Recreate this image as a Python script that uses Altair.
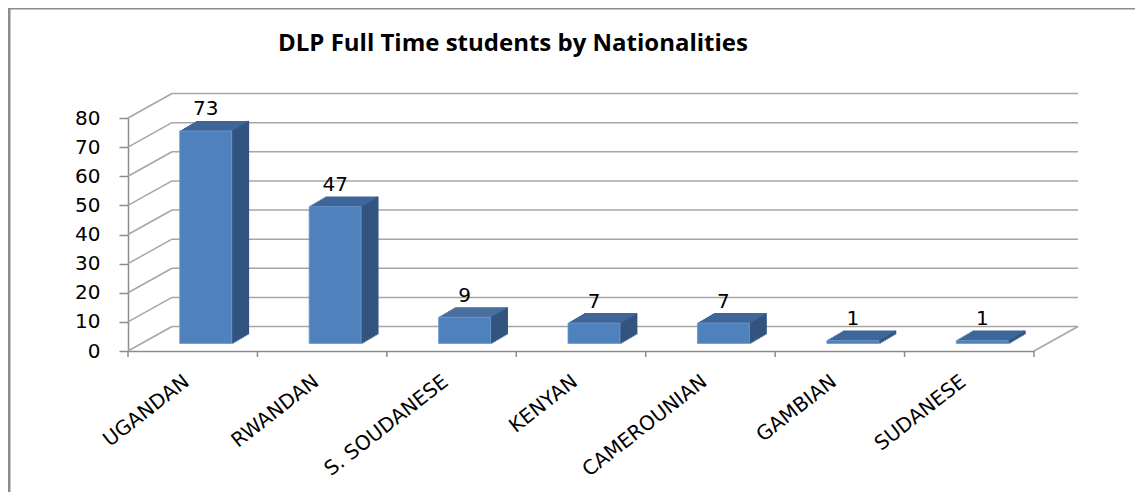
import altair as alt
import pandas as pd

# ---- data ----
categories = ["UGANDAN", "RWANDAN", "S. SOUDANESE", "KENYAN", "CAMEROUNIAN", "GAMBIAN", "SUDANESE"]
students = [73, 47, 9, 7, 7, 1, 1]
y_ticks = [0, 10, 20, 30, 40, 50, 60, 70, 80]
title_text = "DLP Full Time students by Nationalities"

# ---- geometry / style ----
W, H = 906, 233
DX, DY = 44, -24.5        # depth of the back wall
BAR_W = 52
FX, FY = 13, -7.5         # shift of bar front face into the floor
BDX, BDY = 17, -10        # bar depth
N = 10
GRAY = "#8c8c8c"
GRID = "#a6a6a6"
FRONT = "#4f81bd"
TOP = "#3e6699"
SIDE = "#32547f"
FONT = "DejaVu Sans"

df = pd.DataFrame({"nat": categories, "n": students, "zero": [0] * len(students)})
grid_df = pd.DataFrame({"n": y_ticks})
one = pd.DataFrame({"k": [0]})
title_df = pd.DataFrame({"t": [title_text]})

X = alt.X("nat:N", sort=categories,
          scale=alt.Scale(paddingInner=0, paddingOuter=0),
          axis=alt.Axis(title=None, labelAngle=-38, labelAlign="right", labelBaseline="top",
                        labelPadding=20, labelOffset=-12, ticks=False, domainColor=GRAY,
                        domainWidth=1.5, labelOverlap=False,
                        labelFont=FONT, labelFontSize=20, labelColor="black"))
Y = alt.Y("n:Q", scale=alt.Scale(domain=[0, 80], nice=False),
          axis=alt.Axis(title=None, values=y_ticks, tickCount=9, grid=False, tickSize=9,
                        tickColor=GRAY, tickWidth=1.5, domainColor=GRAY, domainWidth=1.5,
                        labelPadding=19, labelOverlap=False, labelFont=FONT, labelFontSize=20,
                        labelColor="black"))

layers = []

# back wall gridlines
layers.append(alt.Chart(grid_df).mark_rule(color=GRID, strokeWidth=1.5, yOffset=DY).encode(
    y=Y, x=alt.value(DX), x2=alt.value(W + DX)))
# side-wall diagonals
layers.append(alt.Chart(grid_df).mark_rule(color=GRID, strokeWidth=1.5, y2Offset=DY).encode(
    y=Y, y2="n:Q", x=alt.value(0), x2=alt.value(DX)))
# floor right edge
layers.append(alt.Chart(one).mark_rule(color=GRID, strokeWidth=1.5).encode(
    y=alt.value(H), y2=alt.value(H + DY), x=alt.value(W), x2=alt.value(W + DX)))
# x ticks at category boundaries
layers.append(alt.Chart(df).mark_rule(color=GRAY, strokeWidth=1.5, xOffset=-W / len(categories) / 2).encode(
    x=X, y=alt.value(H), y2=alt.value(H + 6)))
layers.append(alt.Chart(one).mark_rule(color=GRAY, strokeWidth=1.5).encode(
    x=alt.value(W), y=alt.value(H), y2=alt.value(H + 6)))

# bar side faces
for k in range(1, N + 1):
    t0, t1 = (k - 1) / N, k / N
    tm = (t0 + t1) / 2
    layers.append(alt.Chart(df).mark_bar(
        color=SIDE, width=BDX / N + 0.8, xOffset=FX + BAR_W / 2 + BDX * tm,
        yOffset=FY + BDY * t1, y2Offset=FY + BDY * t0).encode(x=X, y=Y, y2="zero:Q"))
# bar top faces
for k in range(1, N + 1):
    t0, t1 = (k - 1) / N, k / N
    tm = (t0 + t1) / 2
    layers.append(alt.Chart(df).mark_bar(
        color=TOP, width=BAR_W, xOffset=FX + BDX * tm,
        yOffset=FY + BDY * t1, y2Offset=FY + BDY * t0 + 0.4).encode(x=X, y=Y, y2="n:Q"))
# bar front faces
layers.append(alt.Chart(df).mark_bar(
    color=FRONT, width=BAR_W, xOffset=FX, yOffset=FY, y2Offset=FY,
    stroke="#6d9bd1", strokeWidth=0.8).encode(x=X, y=Y, y2="zero:Q"))
# value labels
layers.append(alt.Chart(df).mark_text(
    xOffset=FX, dy=-23, baseline="alphabetic", font=FONT, fontSize=20, color="black").encode(
    x=X, y=Y, text="n:Q"))

# outer frame
layers.append(alt.Chart(one).mark_rule(color=GRAY, strokeWidth=3).encode(
    x=alt.value(-119), y=alt.value(-111), y2=alt.value(H + 200)))
layers.append(alt.Chart(one).mark_rule(color=GRAY, strokeWidth=3).encode(
    x=alt.value(-120), x2=alt.value(W + 200), y=alt.value(-110)))

# chart title
layers.append(alt.Chart(title_df).mark_text(
    font="Open Sans", fontSize=24, fontWeight="bold", color="black",
    align="center", baseline="alphabetic").encode(
    text="t:N", x=alt.value(385), y=alt.value(-67)))

chart = alt.layer(*layers).properties(
    width=W, height=H,
    autosize=alt.AutoSizeParams(type="none"),
    padding={"left": 120, "top": 110, "right": 101, "bottom": 141},
).configure_view(strokeWidth=0)

chart.save("out.html", embed_options={"renderer": "svg", "actions": False})
